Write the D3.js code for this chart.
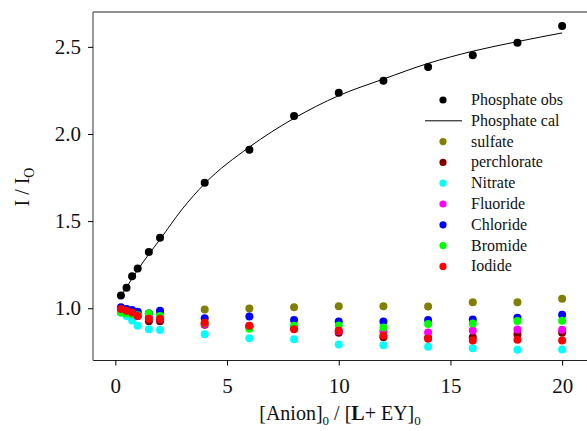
<!DOCTYPE html>
<html>
<head>
<meta charset="utf-8">
<script src="https://cdn.jsdelivr.net/npm/d3@7"></script>
<style>
  body { margin: 0; background: #fff; }
  svg { display: block; }
  svg text { font-family: "Liberation Serif", serif !important; }
</style>
</head>
<body>
<div id="chart"></div>
<script>
// x values (equivalents of anion)
const xVals = [0.25, 0.5, 0.75, 1, 1.5, 2, 4, 6, 8, 10, 12, 14, 16, 18, 20];

const phosphateObs = [1.073, 1.117, 1.184, 1.228, 1.322, 1.405, 1.72, 1.91, 2.103, 2.236, 2.305, 2.385, 2.452, 2.523, 2.619];

// fitted curve
const calX = [0.25, 0.5, 1, 1.5, 2, 3, 4, 6, 8, 10, 12, 14, 16, 18, 20];
const calY = [1.07, 1.12, 1.22, 1.31, 1.395, 1.57, 1.715, 1.925, 2.09, 2.22, 2.315, 2.405, 2.475, 2.53, 2.58];

const sulfate     = [0.99, 0.985, 0.98, 0.975, 0.97, 0.975, 0.993, 0.999, 1.005, 1.012, 1.012, 1.01, 1.035, 1.035, 1.055];
const perchlorate = [0.985, 0.975, 0.965, 0.955, 0.925, 0.925, 0.905, 0.895, 0.885, 0.859, 0.834, 0.83, 0.834, 0.851, 0.859];
const nitrate     = [0.975, 0.955, 0.93, 0.9, 0.88, 0.875, 0.85, 0.828, 0.822, 0.792, 0.788, 0.779, 0.771, 0.761, 0.763];
const fluoride    = [0.985, 0.975, 0.965, 0.955, 0.945, 0.94, 0.91, 0.895, 0.89, 0.87, 0.868, 0.861, 0.872, 0.878, 0.877];
const chloride    = [1.005, 0.995, 0.99, 0.98, 0.97, 0.985, 0.943, 0.953, 0.932, 0.924, 0.924, 0.932, 0.936, 0.945, 0.963];
const bromide     = [0.975, 0.97, 0.965, 0.96, 0.97, 0.955, 0.915, 0.882, 0.9, 0.901, 0.89, 0.909, 0.913, 0.926, 0.928];
const iodide      = [0.995, 0.985, 0.975, 0.955, 0.94, 0.94, 0.917, 0.9, 0.88, 0.872, 0.843, 0.825, 0.815, 0.819, 0.815];

const anions = [
  { name: "sulfate", color: "#808000", values: sulfate },
  { name: "perchlorate", color: "#800000", values: perchlorate },
  { name: "Nitrate", color: "#00ffff", values: nitrate },
  { name: "Fluoride", color: "#ff00ff", values: fluoride },
  { name: "Chloride", color: "#0000ff", values: chloride },
  { name: "Bromide", color: "#00ff00", values: bromide },
  { name: "Iodide", color: "#ff0000", values: iodide }
];

const xTicks = [0, 5, 10, 15, 20];
const yTicks = [1.0, 1.5, 2.0, 2.5];

const fullWidth = 587, fullHeight = 431;
const margin = { top: 12, left: 93 };
const plotBottom = 360.5;

const svg = d3.select("#chart").append("svg")
  .attr("width", fullWidth)
  .attr("height", fullHeight);

const x = d3.scaleLinear().domain([-1, 21.5]).range([margin.left, margin.left + 22.5 * 22.34]);
const y = d3.scaleLinear().domain([0.7, 2.7]).range([plotBottom, margin.top]);

// === Frame ===
svg.append("line")
  .attr("x1", x(-1)).attr("x2", x(21.5))
  .attr("y1", margin.top).attr("y2", margin.top)
  .attr("stroke", "#222").attr("stroke-width", 1.2);

// === Axes ===
const xAxis = svg.append("g")
  .attr("transform", `translate(0,${plotBottom})`)
  .call(d3.axisBottom(x).tickValues(xTicks).tickSize(5).tickPadding(13).tickFormat(d3.format("d")))
  .attr("font-size", 21);
xAxis.select(".domain").attr("stroke", "#222").attr("stroke-width", 1.2).attr("d", `M${x(-1)},0H${x(21.5)}`);
xAxis.selectAll("text").attr("fill", "#111");

const yAxis = svg.append("g")
  .attr("transform", `translate(${margin.left},0)`)
  .call(d3.axisLeft(y).tickValues(yTicks).tickSize(5).tickPadding(7).tickFormat(d3.format(".1f")))
  .attr("font-size", 21);
yAxis.select(".domain").attr("stroke", "#777").attr("stroke-width", 1.5).attr("d", `M0,${margin.top}V${plotBottom}`);
yAxis.selectAll("text").attr("fill", "#111");

// === Axis titles ===
const xt = svg.append("text")
  .attr("x", 340).attr("y", 420)
  .attr("text-anchor", "middle")
  .style("font-size", "20px")
  .style("fill", "#111");
xt.append("tspan").text("[Anion]");
xt.append("tspan").attr("dy", 5).style("font-size", "13px").text("0");
xt.append("tspan").attr("dy", -5).text(" / [");
xt.append("tspan").style("font-weight", "bold").text("L");
xt.append("tspan").text("+ EY]");
xt.append("tspan").attr("dy", 5).style("font-size", "13px").text("0");

const yt = svg.append("text")
  .attr("transform", "translate(29,187) rotate(-90)")
  .attr("text-anchor", "middle")
  .style("font-size", "20px")
  .style("fill", "#111");
yt.append("tspan").text("I / I");
yt.append("tspan").attr("dy", 5).style("font-size", "14px").text("O");

// === Anion series ===
anions.forEach(a => {
  svg.append("g")
    .selectAll("circle")
    .data(xVals.map((v, i) => [v, a.values[i]]))
    .enter()
    .append("circle")
    .attr("cx", d => x(d[0]))
    .attr("cy", d => y(d[1]))
    .attr("r", 4)
    .attr("fill", a.color);
});

// === Phosphate ===
svg.append("path")
  .datum(calX.map((v, i) => [v, calY[i]]))
  .attr("fill", "none")
  .attr("stroke", "#000")
  .attr("stroke-width", 1)
  .attr("d", d3.line().x(d => x(d[0])).y(d => y(d[1])).curve(d3.curveMonotoneX));

svg.append("g")
  .selectAll("circle")
  .data(xVals.map((v, i) => [v, phosphateObs[i]]))
  .enter()
  .append("circle")
  .attr("cx", d => x(d[0]))
  .attr("cy", d => y(d[1]))
  .attr("r", 4)
  .attr("fill", "#000");

// === Legend ===
const legendItems = [{ name: "Phosphate obs", color: "#000", type: "dot" },
  { name: "Phosphate cal", color: "#000", type: "line" }]
  .concat(anions.map(a => ({ name: a.name, color: a.color, type: "dot" })));

const legend = svg.append("g");
legendItems.forEach((d, i) => {
  const cy = 100 + i * 20.8;
  if (d.type === "dot") {
    legend.append("circle").attr("cx", 443).attr("cy", cy).attr("r", 3.6).attr("fill", d.color);
  } else {
    legend.append("line").attr("x1", 425).attr("x2", 462).attr("y1", cy).attr("y2", cy)
      .attr("stroke", d.color).attr("stroke-width", 1);
  }
  legend.append("text")
    .attr("x", 471).attr("y", cy + 5)
    .style("font-size", "16px")
    .style("fill", "#111")
    .text(d.name);
});
</script>
</body>
</html>
